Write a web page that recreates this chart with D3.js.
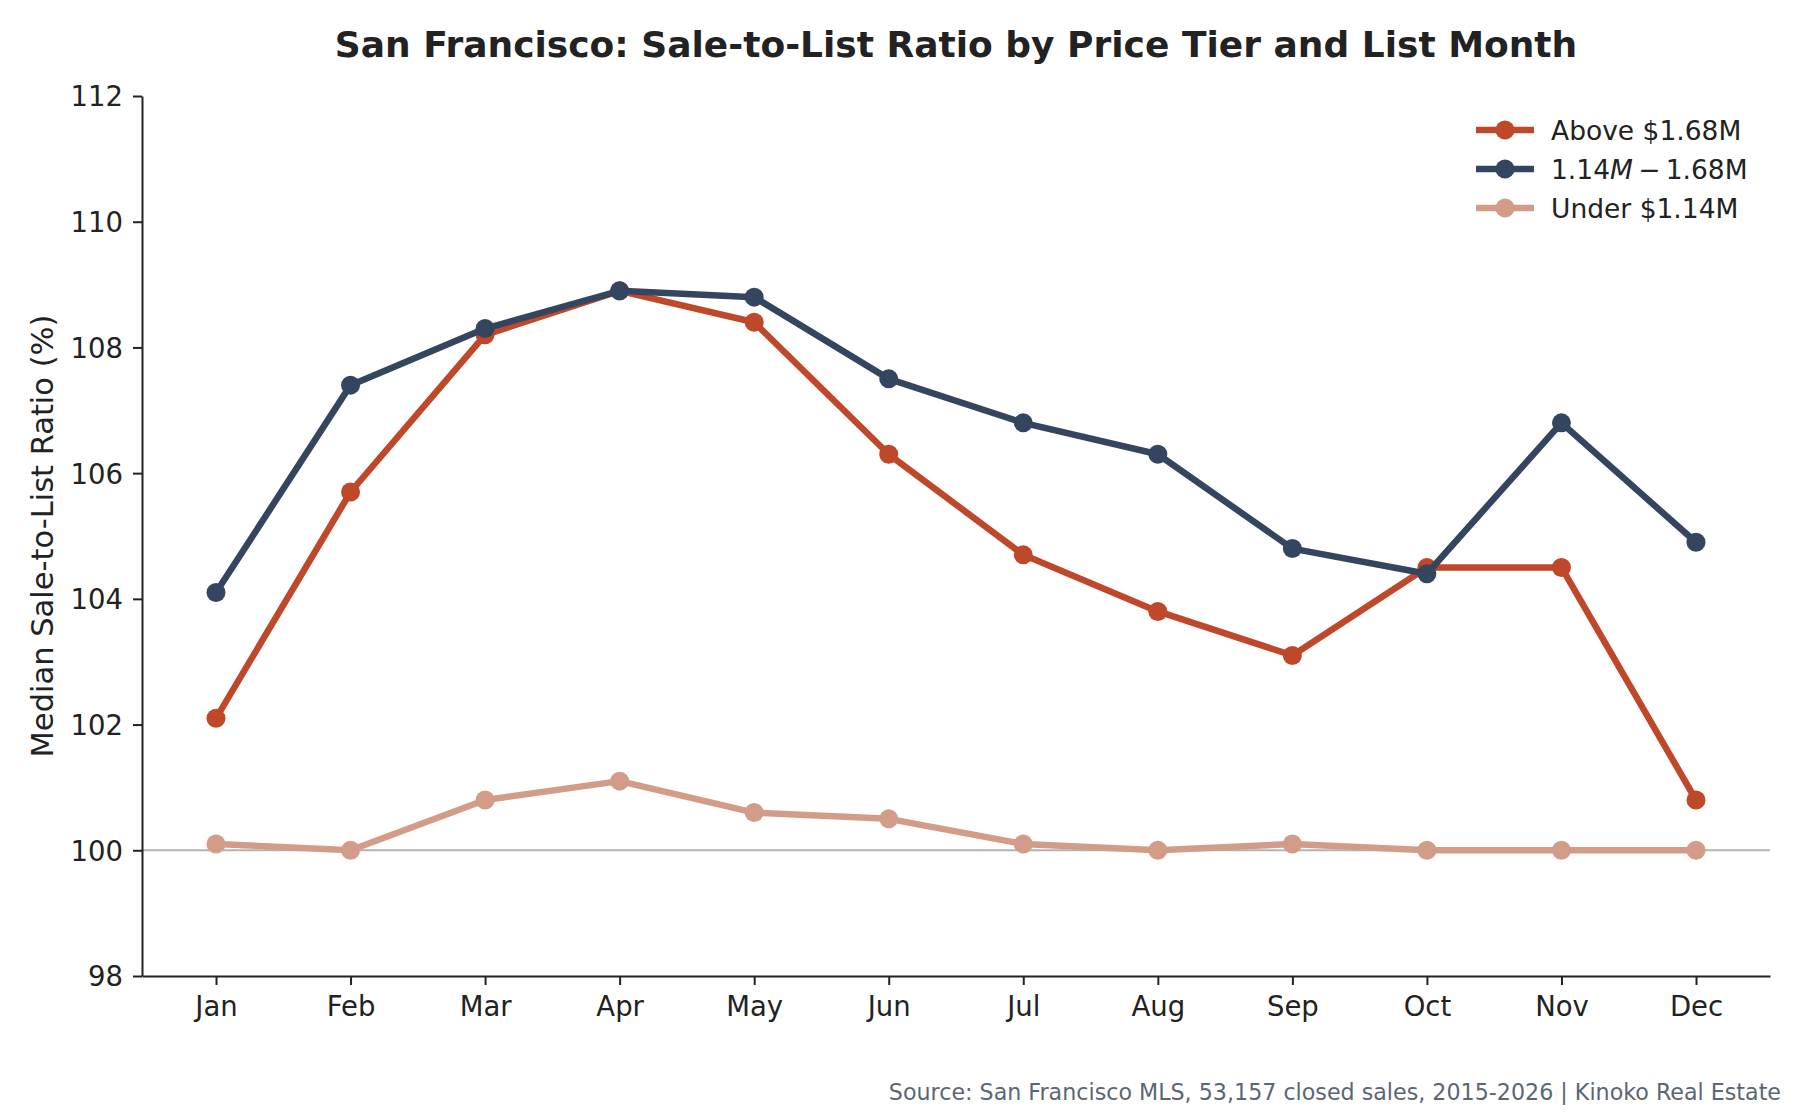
<!DOCTYPE html>
<html>
<head>
<meta charset="utf-8">
<script src="https://cdn.jsdelivr.net/npm/d3@7"></script>
<style>
  body { margin: 0; background: #fff; }
  svg { font-family: "DejaVu Sans", sans-serif; }
</style>
</head>
<body>
<div id="chart"></div>
<script>
var months = ['Jan', 'Feb', 'Mar', 'Apr', 'May', 'Jun', 'Jul', 'Aug', 'Sep', 'Oct', 'Nov', 'Dec'];
var aboveTier = [102.1, 105.7, 108.2, 108.9, 108.4, 106.3, 104.7, 103.8, 103.1, 104.5, 104.5, 100.8];
var midTier = [104.1, 107.4, 108.3, 108.9, 108.8, 107.5, 106.8, 106.3, 104.8, 104.4, 106.8, 104.9];
var underTier = [100.1, 100.0, 100.8, 101.1, 100.6, 100.5, 100.1, 100.0, 100.1, 100.0, 100.0, 100.0];
var yTicks = [98, 100, 102, 104, 106, 108, 110, 112];

var series = [
  { name: 'Above $1.68M', values: aboveTier, color: '#bf472a' },
  { name: 'mid', values: midTier, color: '#34455f' },
  { name: 'Under $1.14M', values: underTier, color: '#d29c89' }
];

var width = 1800, height = 1120;
var margin = { top: 96, right: 30, bottom: 144, left: 142 };
var w = width - margin.left - margin.right;
var h = height - margin.top - margin.bottom;

var svg = d3.select('#chart').append('svg')
  .attr('width', width)
  .attr('height', height);

var g = svg.append('g')
  .attr('transform', 'translate(' + margin.left + ',' + margin.top + ')');

var x = d3.scaleLinear().domain([-0.55, 11.55]).range([0, w]);
var y = d3.scaleLinear().domain([98, 112]).range([h, 0]);

// reference line at 100
g.append('line')
  .attr('x1', 0).attr('x2', w)
  .attr('y1', y(100)).attr('y2', y(100))
  .style('stroke', '#b3b3b3')
  .style('stroke-width', 2);

var line = d3.line()
  .x(function (d, i) { return x(i); })
  .y(function (d) { return y(d); });

series.forEach(function (s) {
  g.append('path')
    .datum(s.values)
    .attr('d', line)
    .style('fill', 'none')
    .style('stroke', s.color)
    .style('stroke-width', 6.5)
    .style('stroke-linejoin', 'round');
  g.selectAll(null)
    .data(s.values)
    .enter()
    .append('circle')
    .attr('cx', function (d, i) { return x(i); })
    .attr('cy', function (d) { return y(d); })
    .attr('r', 9.5)
    .style('fill', s.color);
});

// axes
var xAxis = g.append('g')
  .attr('transform', 'translate(0,' + h + ')')
  .call(d3.axisBottom(x).tickValues(d3.range(12)).tickFormat(function (i) { return months[i]; })
    .tickSize(9).tickPadding(10).tickSizeOuter(0));
var yAxis = g.append('g')
  .call(d3.axisLeft(y).tickValues(yTicks).tickSize(9).tickPadding(10).tickSizeOuter(0));

[xAxis, yAxis].forEach(function (a) {
  a.select('.domain').style('stroke', '#222').style('stroke-width', 2);
  a.selectAll('.tick line').style('stroke', '#222').style('stroke-width', 2);
  a.selectAll('.tick text')
    .style('font-family', '"DejaVu Sans", sans-serif')
    .style('font-size', '27.5px')
    .style('fill', '#222');
});
yAxis.selectAll('.tick text').attr('dy', '0.36em');
xAxis.selectAll('.tick text').attr('dy', '0.76em');

// title
svg.append('text')
  .attr('x', margin.left + w / 2)
  .attr('y', 57)
  .attr('text-anchor', 'middle')
  .style('font-size', '36px')
  .style('font-weight', 'bold')
  .style('fill', '#222')
  .text('San Francisco: Sale-to-List Ratio by Price Tier and List Month');

// y label
svg.append('text')
  .attr('transform', 'translate(53,' + (margin.top + h / 2) + ') rotate(-90)')
  .attr('text-anchor', 'middle')
  .style('font-size', '30.5px')
  .style('fill', '#222')
  .text('Median Sale-to-List Ratio (%)');

// legend
var legend = svg.append('g').attr('transform', 'translate(1476,130)');
series.forEach(function (s, i) {
  var row = legend.append('g').attr('transform', 'translate(0,' + (i * 39) + ')');
  row.append('line')
    .attr('x1', 0).attr('x2', 58)
    .style('stroke', s.color)
    .style('stroke-width', 6.5);
  row.append('circle').attr('cx', 29).attr('r', 9.5).style('fill', s.color);
  var t = row.append('text')
    .attr('x', 75)
    .attr('dy', '0.36em')
    .style('font-size', '26.5px')
    .style('fill', '#222');
  if (s.name === 'mid') {
    t.append('tspan').text('1.14');
    t.append('tspan').style('font-style', 'italic').text('M');
    t.append('tspan').text('\u2009\u2212\u20091.68M');
  } else {
    t.text(s.name);
  }
});

// source
svg.append('text')
  .attr('x', 1781)
  .attr('y', 1100)
  .attr('text-anchor', 'end')
  .style('font-size', '22.2px')
  .style('fill', '#5b6675')
  .text('Source: San Francisco MLS, 53,157 closed sales, 2015-2026 | Kinoko Real Estate');
</script>
</body>
</html>
